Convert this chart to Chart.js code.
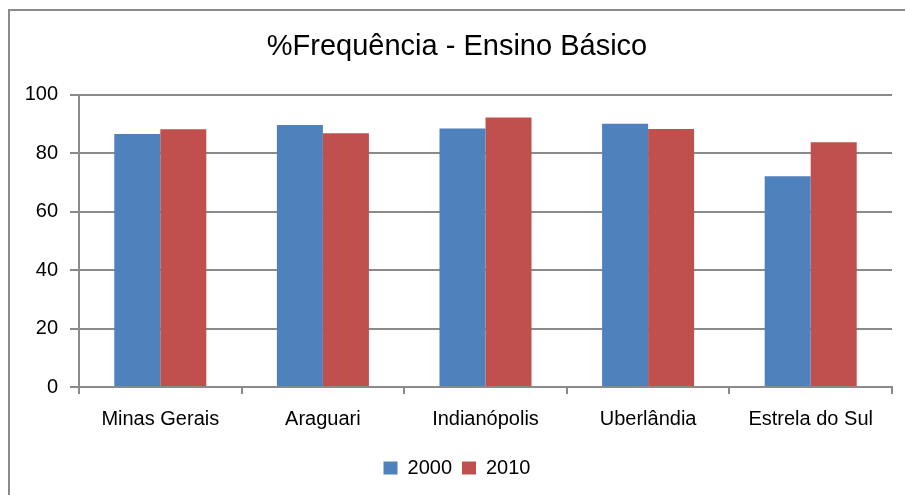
<!DOCTYPE html>
<html>
<head>
<meta charset="utf-8">
<script src="https://cdn.jsdelivr.net/npm/chart.js@4"></script>
<style>
  html, body { margin: 0; padding: 0; background: #fff; overflow: hidden; }
  #wrap { position: relative; width: 905px; height: 495px; }
  #frame { position: absolute; left: 8px; top: 9px; width: 1000px; height: 1000px; border: 2px solid #8a8a8a; }
  canvas { position: absolute; left: 0; top: 0; }
</style>
</head>
<body>
<div id="wrap">
  <div id="frame"></div>
  <canvas id="barchart" width="905" height="495"></canvas>
</div>
<script>
// Categorias e valores (%)
const categorias = ['Minas Gerais', 'Araguari', 'Indianópolis', 'Uberlândia', 'Estrela do Sul'];
const valores2000 = [86.6, 89.7, 88.5, 90.1, 72.1];
const valores2010 = [88.2, 86.8, 92.2, 88.3, 83.8];
const titulo = '%Frequência - Ensino Básico';

const fonte = 'Liberation Sans, Arial, sans-serif';
const cinza = '#8a8a8a';
const padEsq = 22; // desloca título e legenda um pouco para a direita

function createBarChart(canvasId, labels, datasets) {
  const canvas = document.getElementById(canvasId);
  if (!canvas) return;

  const ctx = canvas.getContext('2d');

  new Chart(ctx, {
    type: 'bar',
    data: {
      labels: labels,
      datasets: datasets
    },
    options: {
      responsive: false,
      animation: false,
      layout: { padding: { left: padEsq, right: 13, top: 0, bottom: 7 } },
      datasets: {
        bar: { barPercentage: 1, categoryPercentage: 0.566 }
      },
      scales: {
        x: {
          afterFit: (s) => { s.height = 61; },
          grid: { offset: true, drawOnChartArea: false, drawTicks: true, tickLength: 7, color: cinza, lineWidth: 2 },
          border: { color: cinza, width: 2 },
          ticks: { color: '#000', padding: 13, font: { family: fonte, size: 20 } }
        },
        y: {
          min: 0,
          max: 100,
          afterFit: (s) => { s.width = 79 - padEsq; },
          grid: { color: cinza, lineWidth: 2, tickLength: 9 },
          border: { color: cinza, width: 2 },
          ticks: { stepSize: 20, color: '#000', padding: 12, font: { family: fonte, size: 20 } }
        }
      },
      plugins: {
        title: {
          display: true,
          text: titulo,
          color: '#000',
          font: { family: fonte, size: 29, weight: 'normal', lineHeight: 1.2 },
          padding: { top: 30, bottom: 30 }
        },
        legend: {
          position: 'bottom',
          labels: {
            color: '#000',
            boxWidth: 14,
            boxHeight: 13,
            padding: 10,
            font: { family: fonte, size: 20 }
          }
        },
        tooltip: { enabled: false }
      }
    }
  });
}

createBarChart('barchart', categorias, [
  {
    data: valores2000,
    label: '2000',
    backgroundColor: '#4f81bd',
    borderWidth: 0
  },
  {
    data: valores2010,
    label: '2010',
    backgroundColor: '#c0504d',
    borderWidth: 0
  }
]);
</script>
</body>
</html>
